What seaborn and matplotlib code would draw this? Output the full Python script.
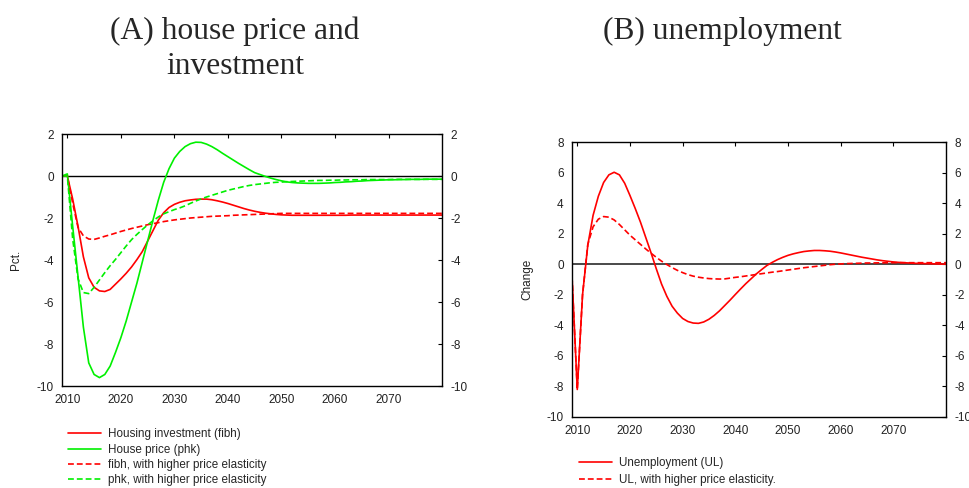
import matplotlib
matplotlib.use("Agg")
import matplotlib.pyplot as plt
import seaborn as sns
import pandas as pd

# ---------------- data ----------------
years = list(range(2009, 2081))

fibh = [0.0, 0.0, -1.1, -2.4, -3.85, -4.85, -5.3, -5.47, -5.5, -5.4,        # 2009-2018
        -5.15, -4.9, -4.63, -4.33, -3.98, -3.6, -3.1, -2.6, -2.1, -1.75,   # 2019-2028
        -1.5, -1.35, -1.25, -1.18, -1.14, -1.11, -1.1, -1.1, -1.13, -1.18, # 2029-2038
        -1.24, -1.31, -1.39, -1.47, -1.55, -1.62, -1.68, -1.73, -1.77, -1.8,
        -1.83, -1.85, -1.86, -1.87, -1.87, -1.87, -1.87, -1.87, -1.87, -1.87,
        -1.87, -1.87, -1.87, -1.87, -1.86, -1.86, -1.86, -1.86, -1.86, -1.86,
        -1.86, -1.86, -1.86, -1.86, -1.86, -1.86, -1.86, -1.86, -1.86, -1.86,
        -1.86, -1.86]

phk = [0.0, 0.1, -2.4, -4.8, -7.2, -8.9, -9.45, -9.6, -9.45, -9.05,
       -8.4, -7.7, -6.9, -6.0, -5.1, -4.1, -3.1, -2.1, -1.15, -0.3,
       0.35, 0.85, 1.17, 1.4, 1.54, 1.61, 1.6, 1.52, 1.4, 1.25,
       1.08, 0.92, 0.76, 0.6, 0.45, 0.3, 0.16, 0.07, -0.02, -0.1,
       -0.17, -0.23, -0.28, -0.31, -0.33, -0.34, -0.35, -0.35, -0.35, -0.34,
       -0.33, -0.31, -0.3, -0.28, -0.27, -0.25, -0.24, -0.22, -0.21, -0.2,
       -0.19, -0.18, -0.18, -0.17, -0.17, -0.16, -0.16, -0.16, -0.15, -0.15,
       -0.15, -0.15]

fibh_hi = [0.0, 0.0, -1.3, -2.45, -2.85, -3.0, -3.02, -2.95, -2.87, -2.8,
           -2.72, -2.64, -2.57, -2.5, -2.44, -2.38, -2.32, -2.27, -2.22, -2.17,
           -2.13, -2.09, -2.06, -2.03, -2.0, -1.98, -1.96, -1.94, -1.92, -1.91,
           -1.9, -1.89, -1.87, -1.86, -1.85, -1.84, -1.83, -1.82, -1.81, -1.8,
           -1.79, -1.78, -1.78, -1.78, -1.78, -1.78, -1.78, -1.78, -1.78, -1.78,
           -1.78, -1.78, -1.78, -1.78, -1.78, -1.78, -1.78, -1.78, -1.78, -1.78,
           -1.78, -1.78, -1.78, -1.78, -1.78, -1.78, -1.78, -1.78, -1.78, -1.78,
           -1.78, -1.78]

phk_hi = [0.0, 0.0, -3.0, -4.9, -5.55, -5.6, -5.3, -4.95, -4.6, -4.27,
          -3.97, -3.65, -3.33, -3.03, -2.78, -2.55, -2.33, -2.13, -1.95, -1.8,
          -1.7, -1.6, -1.52, -1.42, -1.3, -1.19, -1.09, -1.0, -0.92, -0.84,
          -0.76, -0.68, -0.62, -0.56, -0.5, -0.45, -0.41, -0.38, -0.35, -0.32,
          -0.3, -0.29, -0.27, -0.26, -0.25, -0.24, -0.23, -0.22, -0.21, -0.21,
          -0.2, -0.2, -0.19, -0.19, -0.18, -0.18, -0.18, -0.17, -0.17, -0.17,
          -0.17, -0.17, -0.16, -0.16, -0.16, -0.16, -0.16, -0.16, -0.16, -0.16,
          -0.16, -0.16]

ul = [-0.8, -8.2, -2.0, 1.25, 3.2, 4.45, 5.35, 5.85, 6.02, 5.85,
      5.3, 4.5, 3.65, 2.75, 1.75, 0.75, -0.3, -1.3, -2.1, -2.75,
      -3.2, -3.55, -3.75, -3.85, -3.87, -3.78, -3.6, -3.35, -3.05, -2.7,
      -2.35, -1.98, -1.62, -1.27, -0.95, -0.63, -0.35, -0.08, 0.12, 0.3,
      0.45, 0.58, 0.68, 0.76, 0.83, 0.87, 0.9, 0.9, 0.88, 0.85,
      0.8, 0.74, 0.67, 0.6, 0.53, 0.46, 0.4, 0.34, 0.28, 0.23,
      0.19, 0.15, 0.12, 0.1, 0.08, 0.06, 0.05, 0.04, 0.03, 0.02,
      0.01, 0.0]

ul_hi = [-0.8, -8.2, -2.0, 1.3, 2.45, 2.95, 3.12, 3.08, 2.9, 2.6,
         2.25, 1.9, 1.6, 1.3, 1.0, 0.72, 0.45, 0.2, -0.02, -0.22,
         -0.4, -0.55, -0.68, -0.78, -0.85, -0.9, -0.94, -0.96, -0.97, -0.96,
         -0.91, -0.86, -0.82, -0.77, -0.72, -0.67, -0.62, -0.57, -0.52, -0.48,
         -0.43, -0.38, -0.33, -0.28, -0.23, -0.19, -0.15, -0.11, -0.07, -0.03,
         0.0, 0.02, 0.04, 0.05, 0.06, 0.07, 0.08, 0.08, 0.09, 0.09,
         0.1, 0.1, 0.1, 0.1, 0.1, 0.1, 0.1, 0.1, 0.1, 0.1,
         0.1, 0.1]

labels_a = ["Housing investment (fibh)", "House price (phk)",
            "fibh, with higher price elasticity", "phk, with higher price elasticity"]
labels_b = ["Unemployment (UL)", "UL, with higher price elasticity."]
title_a = "(A) house price and\ninvestment"
title_b = "(B) unemployment"
xticks = [2010, 2020, 2030, 2040, 2050, 2060, 2070]
yticks_a = [-10, -8, -6, -4, -2, 0, 2]
yticks_b = [-10, -8, -6, -4, -2, 0, 2, 4, 6, 8]

# ---------------- style ----------------
sns.set_style("white")
plt.rcParams["font.family"] = ["Liberation Sans", "DejaVu Sans"]

RED = "#ff0000"
GREEN = "#00f000"
DASH = (0, (3.5, 1.8))
LW = 1.2

fig = plt.figure(figsize=(9.7, 4.88), dpi=100)
axA = fig.add_axes([0.0639, 0.209, 0.3918, 0.5164])
axB = fig.add_axes([0.5897, 0.1455, 0.3856, 0.5635])

dfA = pd.DataFrame({"year": years, "fibh": fibh, "phk": phk,
                    "fibh_hi": fibh_hi, "phk_hi": phk_hi})
dfB = pd.DataFrame({"year": years, "ul": ul, "ul_hi": ul_hi})

axA.axhline(0, color="black", lw=1.0, zorder=1)
sns.lineplot(data=dfA, x="year", y="fibh", ax=axA, color=RED, lw=LW, label=labels_a[0])
sns.lineplot(data=dfA, x="year", y="phk", ax=axA, color=GREEN, lw=LW, label=labels_a[1])
sns.lineplot(data=dfA, x="year", y="fibh_hi", ax=axA, color=RED, lw=LW, linestyle=DASH, label=labels_a[2])
sns.lineplot(data=dfA, x="year", y="phk_hi", ax=axA, color=GREEN, lw=LW, linestyle=DASH, label=labels_a[3])

axB.axhline(0, color="#3a3a3a", lw=1.3, zorder=1)
sns.lineplot(data=dfB, x="year", y="ul", ax=axB, color=RED, lw=LW, label=labels_b[0])
sns.lineplot(data=dfB, x="year", y="ul_hi", ax=axB, color=RED, lw=LW, linestyle=DASH, label=labels_b[1])

for ax, yt, ylab in [(axA, yticks_a, "Pct."), (axB, yticks_b, "Change")]:
    ax.set_xlim(2009, 2080)
    ax.set_ylim(yt[0], yt[-1])
    ax.set_xticks(xticks)
    ax.set_xticklabels([str(t) for t in xticks])
    ax.set_yticks(yt)
    ax.set_yticklabels([str(t) for t in yt])
    ax.set_xlabel("")
    ax.set_ylabel(ylab, fontsize=8.5, color="#222222")
    ax.tick_params(axis="both", direction="in", top=True, right=True,
                   labelright=True, length=3, width=0.8, labelsize=8.5,
                   pad=6, labelcolor="#222222", color="black")
    for s in ax.spines.values():
        s.set_color("black")
        s.set_linewidth(1.0)
    leg = ax.get_legend()
    if leg is not None:
        leg.remove()

axA.yaxis.set_label_coords(-0.104, 0.5)
axB.yaxis.set_label_coords(-0.104, 0.5)

hA, lA = axA.get_legend_handles_labels()
fig.legend(hA, lA, loc="upper left", bbox_to_anchor=(0.0701, 0.122),
           frameon=False, fontsize=8.4, handlelength=2.8, handletextpad=0.6,
           labelspacing=0.28, borderpad=0, borderaxespad=0)
hB, lB = axB.get_legend_handles_labels()
fig.legend(hB, lB, loc="upper left", bbox_to_anchor=(0.5972, 0.063),
           frameon=False, fontsize=8.4, handlelength=2.8, handletextpad=0.6,
           labelspacing=0.4, borderpad=0, borderaxespad=0)

fig.text(0.2423, 0.966, title_a, ha="center", va="top", fontsize=22.7,
         family=["Liberation Serif", "DejaVu Serif"], linespacing=1.28)
fig.text(0.7448, 0.966, title_b, ha="center", va="top", fontsize=22.7,
         family=["Liberation Serif", "DejaVu Serif"])

fig.savefig("out.png", dpi=100)
